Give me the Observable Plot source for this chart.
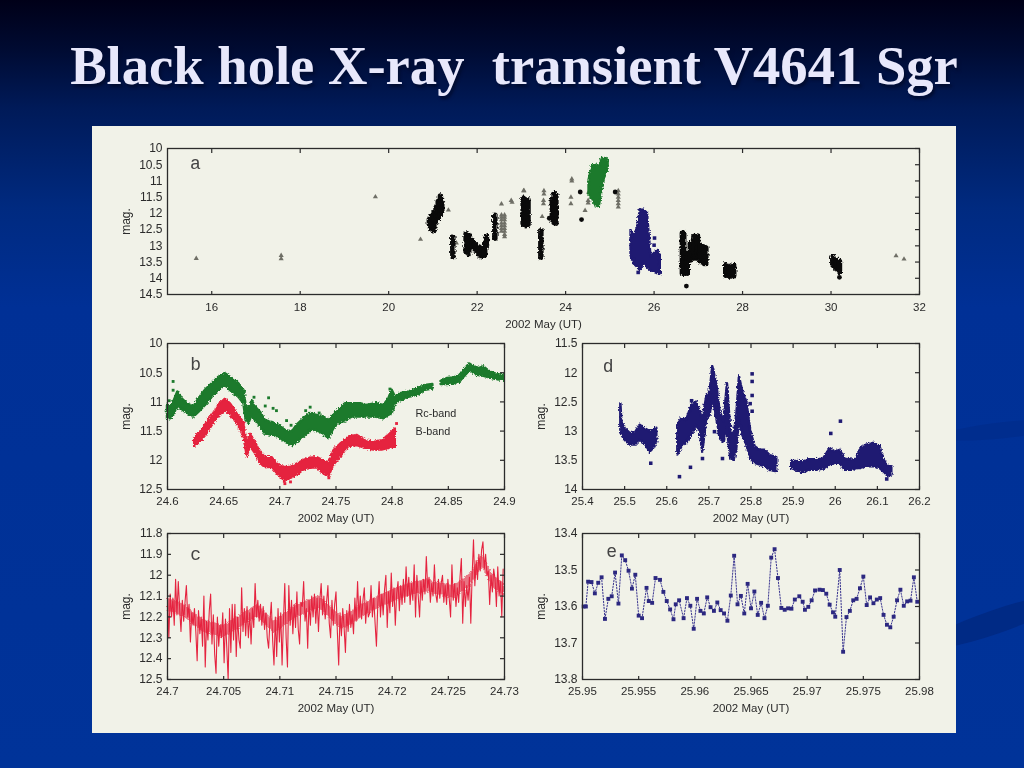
<!DOCTYPE html>
<html><head><meta charset="utf-8">
<script src="https://cdn.jsdelivr.net/npm/d3@7"></script>
<script src="https://cdn.jsdelivr.net/npm/@observablehq/plot@0.6"></script>
<style>
html,body{margin:0;padding:0}
body{width:1024px;height:768px;overflow:hidden;position:relative;background:linear-gradient(180deg,#000018 0,#000a30 6%,#001a58 14%,#002a80 27%,#003096 40%,#003399 100%)}
h1{position:absolute;left:0;top:34px;width:1028px;margin:0;text-align:center;font:bold 54.6px "Liberation Serif",serif;color:#e8e8fb;text-shadow:2px 3px 3px #000c30;white-space:pre}
.sw{position:absolute;background:#002a85;border-radius:50%}
#panel{position:absolute;left:92px;top:126px;width:864px;height:607px;background:#f1f2e8}
svg.pl{position:absolute;background:transparent;overflow:visible;filter:blur(.3px)}
</style></head><body>
<svg width="0" height="0" style="position:absolute"><filter id="rough" x="-5%" y="-5%" width="110%" height="110%" color-interpolation-filters="sRGB"><feTurbulence type="fractalNoise" baseFrequency=".55" numOctaves="2" seed="4" result="n"/><feDisplacementMap in="SourceGraphic" in2="n" scale="4" xChannelSelector="R" yChannelSelector="G"/></filter></svg>
<div class="sw" style="left:940px;top:422px;width:130px;height:16px;transform:rotate(-6deg);opacity:.5"></div>
<div class="sw" style="left:920px;top:610px;width:150px;height:24px;transform:rotate(-19deg)"></div>
<h1>Black hole X-ray  transient V4641 Sgr</h1>
<div id="panel"></div>
<script>
// ---- panel a
const aTicksX=[16,18,20,22,24,26,28,30,32];
const aTicksY=[10,10.5,11,11.5,12,12.5,13,13.5,14,14.5];
const aBlackX=[20.92,20.97,21.02,21.07,21.12,21.17,21.2,21.45,21.75,21.81,21.89,21.96,22.04,22.11,22.17,22.21,22.4,23.04,23.1,23.15,23.44,23.7,23.74,23.78,26.64,26.67,26.75,26.82,26.9,26.98,27.05,27.13,27.17,27.62,27.7,27.8,30.04,30.11,30.19];
const aBlackTop=[12.2,12.1,12,11.85,11.65,11.48,11.7,12.75,12.65,12.7,12.85,12.95,13.05,13.1,12.95,12.72,12.07,11.55,11.6,11.6,12.55,11.6,11.4,11.45,12.63,12.63,13.25,12.94,12.73,12.71,13,13.04,13.08,13.6,13.66,13.62,13.37,13.45,13.5];
const aBlackBot=[12.35,12.5,12.55,12.3,12.15,12.05,11.95,13.35,13.2,13.25,13.05,13.15,13.3,13.35,13.3,13,12.78,12.35,12.4,12.35,13.37,12.2,12.3,12.32,13.86,13.86,13.86,13.45,13.4,13.4,13.5,13.56,13.56,13.92,13.95,13.95,13.6,13.71,13.81];
const aDotX=[23.63,24.33,24.36,25.12,26.73,30.19];
const aDotY=[12.15,11.34,12.19,11.34,14.24,13.97];
const aGreenX=[24.53,24.61,24.68,24.76,24.83,24.91,24.96];
const aGreenTop=[10.99,10.5,10.52,10.58,10.32,10.3,10.37];
const aGreenBot=[11.45,11.55,11.76,11.8,11.24,10.73,10.63];
const aNavyX=[25.48,25.55,25.63,25.69,25.78,25.85,25.93,26,26.08,26.14];
const aNavyTop=[12.53,12.73,12.43,11.89,11.91,12.01,13.35,13.25,13.14,13.3];
const aNavyBot=[13.3,13.56,13.66,13.76,13.5,13.66,13.76,13.81,13.86,13.86];
const aNavyDotX=[26.01,26,25.64,25.55];
const aNavyDotY=[12.76,12.98,13.82,13.42];
const aTriX=[15.65,17.57,17.57,19.7,20.72,21.35,21.53,22.55,22.77,22.79,23.05,23.05,22.55,22.62,22.55,22.62,22.55,22.62,22.55,22.62,22.55,22.62,22.55,22.62,22.55,22.62,22.62,22.62,23.06,23.51,23.51,23.5,23.5,23.47,24.14,24.14,24.12,24.12,24.52,24.51,24.51,24.44,25.19,25.19,25.19,25.19,25.19,25.19,31.47,31.65];
const aTriY=[13.39,13.3,13.4,11.49,12.8,11.9,12.91,11.71,11.6,11.66,11.3,11.79,12.05,12.05,12.12,12.12,12.2,12.2,12.3,12.3,12.38,12.38,12.47,12.47,12.55,12.55,12.65,12.72,11.3,11.3,11.4,11.6,11.7,12.1,10.94,11,11.5,11.7,11.35,11.6,11.68,11.91,11.3,11.4,11.5,11.6,11.7,11.8,13.31,13.41];
// ---- panel b
const bTicksX=[24.6,24.65,24.7,24.75,24.8,24.85,24.9];
const bTicksY=[10,10.5,11,11.5,12,12.5];
const bGreenX=[24.6,24.6027,24.6056,24.6092,24.6131,24.6175,24.6234,24.6279,24.6338,24.6398,24.6457,24.6516,24.6576,24.6635,24.668,24.67,24.6724,24.6754,24.6783,24.6828,24.6872,24.6932,24.6991,24.705,24.711,24.7154,24.7214,24.7273,24.7332,24.7392,24.7436,24.7481,24.7525,24.7585,24.7644,24.7718,24.7777,24.7852,24.7926,24.797,24.8,24.803,24.8074,24.8148,24.8223,24.8297,24.8362,24.84,24.8436,24.849,24.8549,24.8602,24.8653,24.8691,24.8727,24.8772,24.8816,24.8875,24.8935,24.8994];
const bGreenTop=[11.06,11.09,11,10.83,10.95,11.03,11.09,10.95,10.8,10.69,10.58,10.52,10.6,10.69,10.8,11.06,11.15,10.98,11.09,11.18,11.32,11.35,11.4,11.49,11.52,11.4,11.29,11.2,11.23,11.26,11.32,11.23,11.15,11.03,11.03,11.03,11.06,11.03,11.06,10.95,10.8,10.92,10.86,10.83,10.78,10.72,10.7,null,10.65,10.6,10.59,10.55,10.43,10.35,10.4,10.43,10.4,10.49,10.53,10.55];
const bGreenBot=[11.29,11.29,11.23,11.06,11.13,11.2,11.26,11.18,11.06,10.92,10.8,10.72,10.83,10.92,11.03,11.32,11.37,11.23,11.32,11.43,11.55,11.57,11.6,11.69,11.75,11.69,11.6,11.49,11.49,11.55,11.63,11.46,11.37,11.32,11.26,11.26,11.26,11.26,11.29,11.23,11.2,11.03,10.98,10.92,10.89,10.8,10.78,null,10.7,10.7,10.69,10.66,10.55,10.46,10.5,10.55,10.56,10.59,10.62,10.63];
const bGreenDotX=[24.605,24.605,24.677,24.69,24.687,24.694,24.697,24.706,24.71,24.727,24.723,24.6015,24.6685,24.735,24.7495,24.798];
const bGreenDotY=[10.65,10.8,10.92,10.93,11.07,11.11,11.15,11.32,11.4,11.09,11.15,10.98,10.82,11.19,11.18,10.78];
const bRedX=[24.624,24.6294,24.6353,24.6412,24.6466,24.6516,24.6561,24.662,24.668,24.6709,24.6739,24.6783,24.6828,24.6872,24.6932,24.6976,24.7036,24.7095,24.7154,24.7214,24.7273,24.7332,24.7386,24.7436,24.7481,24.754,24.7614,24.7688,24.7763,24.7837,24.7911,24.797,24.803];
const bRedTop=[11.63,11.52,11.35,11.19,11.03,10.95,11.03,11.2,11.35,11.69,11.55,11.69,11.86,11.95,11.95,12.06,12.12,12.12,12.06,12,11.96,11.95,12,12.06,11.83,11.72,11.6,11.57,11.66,11.69,11.66,11.57,11.46];
const bRedBot=[11.77,11.69,11.55,11.37,11.23,11.15,11.23,11.37,11.6,11.95,11.77,11.89,12.06,12.13,12.12,12.23,12.34,12.32,12.26,12.17,12.14,12.13,12.23,12.29,12.09,11.95,11.77,11.75,11.8,11.83,11.83,11.8,11.77];
const bRedDotX=[24.8039,24.7095,24.704,24.7436,24.7045];
const bRedDotY=[11.37,12.37,12.36,12.3,12.4];
// ---- panel c
const cTicksX=[24.7,24.705,24.71,24.715,24.72,24.725,24.73];
const cTicksY=[11.8,11.9,12,12.1,12.2,12.3,12.4,12.5];
const cCoreX=[24.7,24.7015,24.703,24.705,24.7065,24.708,24.7095,24.7115,24.7135,24.7155,24.7165,24.718,24.72,24.7215,24.723,24.7245,24.7255,24.727,24.728,24.729,24.73];
const cCoreTop=[12.11,12.14,12.21,12.24,12.19,12.14,12.22,12.14,12.1,12.2,12.17,12.12,12.07,12.04,12.02,12.04,12.05,11.99,11.9,12,12.04];
const cCoreBot=[12.17,12.2,12.27,12.3,12.25,12.2,12.28,12.2,12.16,12.26,12.23,12.18,12.13,12.1,12.08,12.1,12.11,12.05,11.96,12.06,12.1];
const cTime=[24.7,24.70012,24.70024,24.70036,24.70048,24.7006,24.70072,24.70084,24.70096,24.70108,24.7012,24.70132,24.70144,24.70156,24.70168,24.7018,24.70192,24.70204,24.70216,24.70228,24.7024,24.70252,24.70264,24.70276,24.70288,
24.703,24.70312,24.70324,24.70336,24.70348,24.7036,24.70372,24.70384,24.70396,24.70408,24.7042,24.70432,24.70444,24.70456,24.70468,24.7048,24.70492,24.70504,24.70516,24.70528,24.7054,24.70552,24.70564,24.70576,24.70588,
24.706,24.70612,24.70624,24.70636,24.70648,24.7066,24.70672,24.70684,24.70696,24.70708,24.7072,24.70732,24.70744,24.70756,24.70768,24.7078,24.70792,24.70804,24.70816,24.70828,24.7084,24.70852,24.70864,24.70876,24.70888,
24.709,24.70912,24.70924,24.70936,24.70948,24.7096,24.70972,24.70984,24.70996,24.71008,24.7102,24.71032,24.71044,24.71056,24.71068,24.7108,24.71092,24.71104,24.71116,24.71128,24.7114,24.71152,24.71164,24.71176,24.71188,
24.712,24.71212,24.71224,24.71236,24.71248,24.7126,24.71272,24.71284,24.71296,24.71308,24.7132,24.71332,24.71344,24.71356,24.71368,24.7138,24.71392,24.71404,24.71416,24.71428,24.7144,24.71452,24.71464,24.71476,24.71488,
24.715,24.71512,24.71524,24.71536,24.71548,24.7156,24.71572,24.71584,24.71596,24.71608,24.7162,24.71632,24.71644,24.71656,24.71668,24.7168,24.71692,24.71704,24.71716,24.71728,24.7174,24.71752,24.71764,24.71776,24.71788,
24.718,24.71812,24.71824,24.71836,24.71848,24.7186,24.71872,24.71884,24.71896,24.71908,24.7192,24.71932,24.71944,24.71956,24.71968,24.7198,24.71992,24.72004,24.72016,24.72028,24.7204,24.72052,24.72064,24.72076,24.72088,
24.721,24.72112,24.72124,24.72136,24.72148,24.7216,24.72172,24.72184,24.72196,24.72208,24.7222,24.72232,24.72244,24.72256,24.72268,24.7228,24.72292,24.72304,24.72316,24.72328,24.7234,24.72352,24.72364,24.72376,24.72388,
24.724,24.72412,24.72424,24.72436,24.72448,24.7246,24.72472,24.72484,24.72496,24.72508,24.7252,24.72532,24.72544,24.72556,24.72568,24.7258,24.72592,24.72604,24.72616,24.72628,24.7264,24.72652,24.72664,24.72676,24.72688,
24.727,24.72712,24.72724,24.72736,24.72748,24.7276,24.72772,24.72784,24.72796,24.72808,24.7282,24.72832,24.72844,24.72856,24.72868,24.7288,24.72892,24.72904,24.72916,24.72928,24.7294,24.72952,24.72964,24.72976,24.72988];
const cMag=[12.10,12.30,12.09,12.20,12.11,12.24,12.02,12.19,12.03,12.16,12.27,12.12,12.22,12.13,12.05,12.20,12.14,12.32,12.18,12.24,12.16,12.27,12.41,12.17,12.28,
12.20,12.34,12.10,12.44,12.22,12.31,12.17,12.09,12.33,12.19,12.38,12.47,12.20,12.34,12.24,12.30,12.18,12.42,12.21,12.35,12.50,12.16,12.37,12.14,12.31,
12.14,12.39,12.20,12.31,12.35,12.06,12.27,12.16,12.29,12.15,12.30,12.18,12.33,12.16,12.25,12.04,12.20,12.12,12.22,12.14,12.24,12.15,12.26,12.18,12.30,
12.35,12.22,12.13,12.31,12.43,12.20,12.39,12.16,12.32,12.18,12.43,12.22,12.04,12.30,12.44,12.05,12.24,12.12,12.28,12.14,12.25,12.08,12.26,12.33,12.13,
12.15,12.03,12.22,12.16,12.35,12.12,12.24,12.10,12.20,12.09,12.23,12.11,12.27,12.12,12.04,12.19,12.10,12.21,12.13,12.05,12.23,12.30,12.12,12.24,12.14,
12.08,12.27,12.43,12.18,12.29,12.16,12.25,12.37,12.17,12.27,12.14,12.25,12.19,12.28,12.11,12.22,12.03,12.20,12.10,12.21,12.12,12.06,12.23,12.13,12.20,
12.18,12.05,12.20,12.11,12.23,12.34,12.14,12.03,12.20,12.09,12.19,12.07,12.00,12.25,12.08,12.18,11.99,12.15,12.06,12.24,12.09,12.03,12.17,12.05,12.14,
12.02,12.13,11.96,12.10,12.01,12.14,12.04,12.12,11.95,12.20,12.00,12.10,12.20,12.03,12.12,12.02,12.09,11.91,12.06,12.01,12.13,12.04,12.10,11.95,12.09,
12.13,12.02,12.11,12.04,12.00,12.13,12.05,12.14,12.02,12.11,12.20,11.95,12.12,12.04,12.15,12.06,12.13,12.01,11.92,12.23,12.03,12.15,12.05,12.12,12.01,
12.23,12.00,11.83,12.05,11.93,12.02,11.90,11.98,11.88,11.84,11.97,11.90,12.00,11.98,12.14,12.00,12.08,11.97,12.02,12.15,11.96,12.10,12.03,12.20,11.97];
// ---- panel d
const dTicksX=[25.4,25.5,25.6,25.7,25.8,25.9,26,26.1,26.2];
const dTicksY=[11.5,12,12.5,13,13.5,14];
const dX=[25.491,25.4934,25.5013,25.5131,25.525,25.5369,25.5487,25.5606,25.5685,25.5764,25.6,25.6263,25.6358,25.6476,25.6595,25.6714,25.6793,25.6856,25.6951,25.703,25.7093,25.7188,25.7267,25.7362,25.7441,25.752,25.76,25.7663,25.7726,25.7805,25.79,25.7995,25.8098,25.8217,25.8335,25.8454,25.8612,25.88,25.8968,25.9087,25.9245,25.9403,25.9562,25.972,25.9878,26,26.0116,26.0234,26.0392,26.0511,26.0606,26.0748,26.0907,26.1065,26.116,26.1263,26.1342];
const dTop=[12.53,12.84,12.96,13.04,13.04,12.9,12.96,13.01,12.99,12.95,null,12.9,12.79,12.81,12.56,12.5,12.67,12.81,12.41,12.33,11.9,12.2,12.67,12.84,12.19,13.01,13.07,12.73,12.07,12.33,12.5,13.01,13.27,13.33,13.33,13.42,13.45,null,13.52,13.52,13.53,13.49,13.49,13.48,13.3,13.36,13.33,13.48,13.5,13.48,13.3,13.24,13.21,13.27,13.5,13.61,13.61];
const dBot=[13,13.07,13.16,13.24,13.24,13.16,13.22,13.36,13.3,13.19,null,13.41,13.27,13.19,13.07,12.9,13.02,13.36,12.79,12.73,12.39,12.78,13.13,13.19,12.96,13.47,13.5,13.3,12.79,13.07,13.24,13.47,13.55,13.58,13.61,13.67,13.69,null,13.64,13.67,13.71,13.67,13.67,13.65,13.58,13.55,13.55,13.67,13.67,13.64,13.64,13.61,13.61,13.64,13.7,13.78,13.75];
const dDotX=[25.6302,25.6563,25.6848,25.7323,25.7133,25.8027,25.8027,25.8027,25.8027,25.798,25.9894,26.0123,25.562,26.1222,25.659];
const dDotY=[13.78,13.62,13.47,13.47,13.01,12.02,12.15,12.39,12.66,12.53,13.04,12.83,13.55,13.82,12.48];
// ---- panel e
const eTicksX=[25.95,25.955,25.96,25.965,25.97,25.975,25.98];
const eTicksY=[13.4,13.5,13.6,13.7,13.8];
const eX=[25.9501,25.9503,25.9505,25.9508,25.9511,25.9514,25.9517,25.952,25.9523,25.9526,25.9529,25.9532,25.9535,25.9538,25.9541,25.9544,25.9547,25.955,25.9553,25.9557,25.9559,25.9562,25.9565,25.9569,25.9572,25.9575,25.9578,25.9581,25.9583,25.9586,25.959,25.9593,25.9596,25.9599,25.9602,25.9605,25.9608,25.9611,25.9614,25.9617,25.962,25.9623,25.9626,25.9629,25.9632,25.9635,25.9638,25.9641,25.9644,25.9647,25.965,25.9653,25.9656,25.9659,25.9662,25.9665,25.9668,25.9671,25.9674,25.9677,25.968,25.9683,25.9686,25.9689,25.9693,25.9696,25.9698,25.9701,25.9704,25.9707,25.9711,25.9714,25.9717,25.972,25.9723,25.9725,25.9729,25.9732,25.9735,25.9738,25.9741,25.9744,25.9747,25.975,25.9753,25.9756,25.9759,25.9762,25.9765,25.9768,25.9771,25.9774,25.9777,25.978,25.9783,25.9786,25.9789,25.9792,25.9795,25.9798];
const eY=[13.6,13.6,13.532,13.533,13.564,13.535,13.52,13.634,13.579,13.572,13.507,13.592,13.46,13.473,13.502,13.551,13.513,13.625,13.632,13.549,13.585,13.59,13.522,13.527,13.56,13.585,13.608,13.635,13.594,13.583,13.632,13.577,13.598,13.661,13.579,13.612,13.619,13.575,13.602,13.612,13.589,13.61,13.619,13.639,13.57,13.461,13.594,13.571,13.619,13.538,13.605,13.559,13.623,13.59,13.632,13.598,13.466,13.443,13.522,13.604,13.609,13.605,13.606,13.581,13.572,13.587,13.609,13.601,13.583,13.556,13.554,13.555,13.565,13.595,13.616,13.628,13.5,13.724,13.629,13.612,13.583,13.579,13.55,13.518,13.596,13.575,13.591,13.581,13.577,13.623,13.65,13.657,13.628,13.583,13.554,13.598,13.586,13.584,13.52,13.587];

const GREEN="#1c7a2c",RED="#e5233f",NAVY="#1f1a72",INK="#2b2b2b";
const XLABEL="2002 May (UT)",YLABEL="mag.";
const band=(x,t,b)=>x.map((v,i)=>({x:v,t:t[i],b:b[i]}));
const pts=(x,y)=>x.map((v,i)=>({x:v,y:y[i]}));
const panelEl=document.getElementById("panel");

function chart(f,xd,yd,xt,yt,letter,marks,opt={}){
  const ml=75,mr=20,mt=12,mb=45;
  const p=Plot.plot({
    width:f.r-f.l+ml+mr,height:f.b-f.t+mt+mb,
    marginLeft:ml,marginRight:mr,marginTop:mt,marginBottom:mb,
    style:{background:"transparent",fontFamily:"'Liberation Sans',sans-serif",fontSize:"11.5px",color:INK,overflow:"visible"},
    x:{domain:xd},y:{domain:yd,reverse:true},
    marks:[
      ...marks,
      Plot.frame({stroke:INK,strokeWidth:1.3}),
      Plot.axisX(xt,{anchor:"top",tickSize:4,dy:4,text:null,label:null,stroke:INK,strokeWidth:1.2}),
      Plot.axisX(xt,{anchor:"bottom",tickSize:3,dy:-3,text:null,label:null,stroke:INK,strokeWidth:1.2}),
      Plot.axisY(yt,{anchor:"right",tickSize:5,dx:-5,text:null,label:null,stroke:INK,strokeWidth:1.2}),
      ...(opt.leftTicks?[Plot.axisY(yt,{anchor:"left",tickSize:4,dx:4,text:null,label:null,stroke:INK,strokeWidth:1.2})]:[]),
      Plot.axisX(xt,{anchor:"bottom",tickSize:0,tickPadding:opt.tx??7,tickFormat:String,fill:INK,label:XLABEL,labelAnchor:"center",labelArrow:"none",labelOffset:opt.lx??32}),
      Plot.axisY(yt,{anchor:"left",tickSize:0,tickPadding:5,tickFormat:String,fill:INK,fontSize:12,label:YLABEL,labelAnchor:"center",labelArrow:"none",labelOffset:opt.ly??46}),
      Plot.text([letter],{x:d=>d.x,y:d=>d.y,text:d=>d.t,fontFamily:"'Liberation Mono',monospace",fontSize:18,fill:"#444"})
    ]
  });
  p.classList.add("pl");
  p.style.left=(f.l-ml-92)+"px";p.style.top=(f.t-mt-126)+"px";
  p.querySelectorAll('g[aria-label="area"],g[aria-label="rule"]').forEach(g=>g.setAttribute("filter","url(#rough)"));
  panelEl.appendChild(p);
}
const area=(rows,c,w,o=1)=>Plot.areaY(rows,{x:"x",y1:"t",y2:"b",fill:c,stroke:c,strokeWidth:w,strokeLinejoin:"round",opacity:o});
const sq=(rows,c,r)=>Plot.dot(rows,{x:"x",y:"y",symbol:"square",r,fill:c});

chart({l:167,r:919,t:148,b:294},[15,32],[10,14.5],aTicksX,aTicksY,{x:15.63,y:10.46,t:"a"},[
  Plot.dot(pts(aTriX,aTriY),{x:"x",y:"y",symbol:"triangle",r:1.9,fill:"#6f6f66"}),
  Plot.ruleX(band(aBlackX,aBlackTop,aBlackBot),{x:"x",y1:"t",y2:"b",stroke:"#0a0a0a",strokeWidth:5.5,strokeLinecap:"round"}),
  Plot.dot(pts(aDotX,aDotY),{x:"x",y:"y",r:2.4,fill:"#0a0a0a"}),
  area(band(aGreenX,aGreenTop,aGreenBot),GREEN,2.5),
  area(band(aNavyX,aNavyTop,aNavyBot),NAVY,2.5),
  sq(pts(aNavyDotX,aNavyDotY),NAVY,2)
],{lx:33,tx:8});

chart({l:167,r:504,t:343,b:489},[24.6,24.9],[10,12.5],bTicksX,bTicksY,{x:24.625,y:10.36,t:"b"},[
  area(band(bGreenX,bGreenTop,bGreenBot),GREEN,2.5),
  sq(pts(bGreenDotX,bGreenDotY),GREEN,1.6),
  area(band(bRedX,bRedTop,bRedBot),RED,2),
  sq(pts(bRedDotX,bRedDotY),RED,1.6),
  Plot.text([{x:24.8208,y:11.2,t:"Rc-band"},{x:24.8208,y:11.5,t:"B-band"}],{x:"x",y:"y",text:"t",textAnchor:"start",fontSize:10.8,fill:INK})
]);

chart({l:167,r:504,t:533,b:679},[24.7,24.73],[11.8,12.5],cTicksX,cTicksY,{x:24.7025,y:11.9,t:"c"},[
  area(band(cCoreX,cCoreTop,cCoreBot),RED,0,0.6),
  Plot.line(pts(cTime,cMag),{x:"x",y:"y",stroke:RED,strokeWidth:1.1,clip:true})
],{leftTicks:true});

chart({l:582,r:919,t:343,b:489},[25.4,26.2],[11.5,14],dTicksX,dTicksY,{x:25.461,y:11.89,t:"d"},[
  area(band(dX,dTop,dBot),NAVY,2.5),
  sq(pts(dDotX,dDotY),NAVY,2)
]);

chart({l:582,r:919,t:533,b:679},[25.95,25.98],[13.4,13.8],eTicksX,eTicksY,{x:25.9526,y:13.449,t:"e"},[
  Plot.line(pts(eX,eY),{x:"x",y:"y",stroke:"#3a3590",strokeWidth:1,strokeDasharray:"1.4,1.6"}),
  sq(pts(eX,eY),"#2c2880",2.2)
]);
</script>
</body></html>
